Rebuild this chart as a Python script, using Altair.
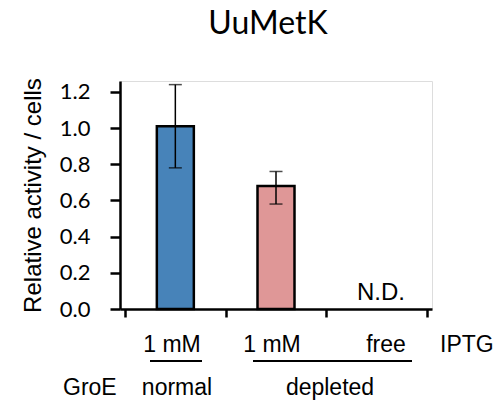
import altair as alt
import pandas as pd

categories = ["1 mM / normal", "1 mM / depleted", "free / depleted"]
positions = [0.5, 1.5, 2.5]
values = [1.01, 0.68]
err_low = [0.78, 0.58]
err_high = [1.24, 0.76]
colors = ["#4783B9", "#DF9797"]
y_ticks = [0.0, 0.2, 0.4, 0.6, 0.8, 1.0, 1.2]
x_ticks = [0, 1, 2, 3]

bars_df = pd.DataFrame({
    "cat": categories[:2],
    "pos": positions[:2],
    "value": values,
    "lo": err_low,
    "hi": err_high,
    "color": colors,
})

W, H = 312, 228
FONT = "Liberation Sans"
FS = 23

xs = alt.Scale(domain=[0, 3], nice=False, zero=False)
ys = alt.Scale(domain=[0, 1.26], nice=False)

x_axis = alt.Axis(values=x_ticks, labels=False, title=None, grid=False,
                  tickSize=8, tickWidth=2.5, domainWidth=2.5,
                  domainColor="black", tickColor="black")
y_axis = alt.Axis(values=y_ticks, format=".1f", title="Relative activity / cells",
                  grid=False, tickSize=10, tickWidth=2.5, domainWidth=2.5,
                  domainColor="black", tickColor="black",
                  labelFont="Lato", labelFontSize=22, labelColor="black",
                  labelOverlap=False, labelPadding=20, tickCount=7,
                  titleFont=FONT, titleFontSize=24,
                  titleFontWeight="normal", titleColor="black", titlePadding=14)


def X(f):
    return alt.X(f, scale=xs, axis=x_axis)


def Y(f):
    return alt.Y(f, scale=ys, axis=y_axis)


bars = alt.Chart(bars_df).mark_bar(size=37, stroke="black", strokeWidth=2.5).encode(
    x=X("pos:Q"), y=Y("value:Q"), color=alt.Color("color:N", scale=None)
)
err = alt.Chart(bars_df).mark_rule(color="black", strokeWidth=1.5).encode(
    x=X("pos:Q"), y=Y("lo:Q"), y2="hi:Q"
)
cap_lo = alt.Chart(bars_df).mark_tick(orient="horizontal", size=13, thickness=1.5, color="black").encode(
    x=X("pos:Q"), y=Y("lo:Q")
)
cap_hi = alt.Chart(bars_df).mark_tick(orient="horizontal", size=13, thickness=1.5, color="black").encode(
    x=X("pos:Q"), y=Y("hi:Q")
)


def label(text, x, y, align="center", size=FS, font=FONT):
    return alt.Chart().mark_text(align=align, baseline="alphabetic", font=font,
                                 fontSize=size, color="black").encode(
        x=alt.value(x), y=alt.value(y), text=alt.value(text))


def hline(x1, x2, y):
    return alt.Chart().mark_rule(color="black", strokeWidth=2).encode(
        x=alt.value(x1), x2=alt.value(x2), y=alt.value(y))


layers = [
    bars, err, cap_lo, cap_hi,
    label("UuMetK", 148, -47, size=32, font="Lato"),
    label("N.D.", 261, 219, size=24),
    label("1 mM", 52, 271),
    label("1 mM", 152, 271),
    label("free", 266, 271),
    label("IPTG", 320, 271, align="left"),
    hline(30, 82, 280),
    hline(133, 292, 280),
    label("GroE", -57, 314, align="left"),
    label("normal", 57, 314),
    label("depleted", 210, 314),
]

chart = alt.layer(*layers).properties(
    width=W, height=H,
    autosize=alt.AutoSizeParams(type="none"),
    padding={"left": 120, "top": 81, "right": 67, "bottom": 92},
).configure_view(stroke=None).configure(background="white")

chart.save("out.html", embed_options={"renderer": "svg", "actions": False})
